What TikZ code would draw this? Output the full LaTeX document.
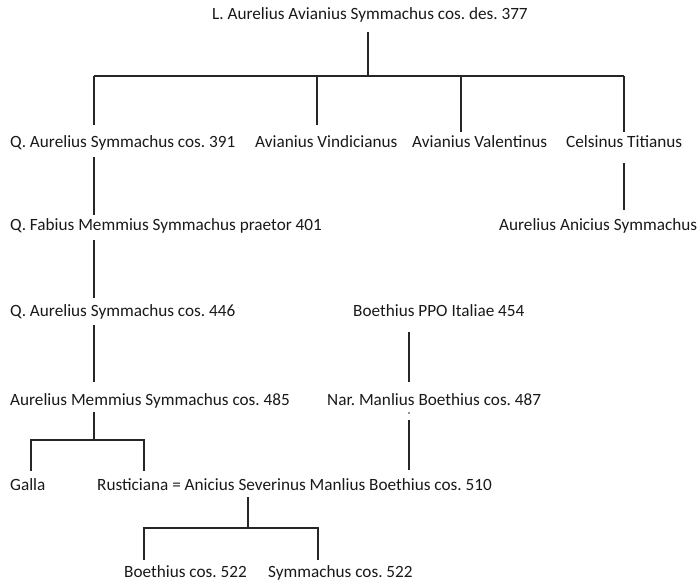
\documentclass[tikz,border=0pt]{standalone}
\usepackage{fontspec}
\setmainfont{Carlito}
\begin{document}
\frenchspacing
\begin{tikzpicture}[x=1bp,y=-1bp,
  person/.style={anchor=base west,inner sep=0pt,text=black!90,font=\fontsize{17.2bp}{20bp}\selectfont\frenchspacing},
  link/.style={draw=black!85,line width=1.3bp}]
\useasboundingbox (0,0) rectangle (697,582);
% people
\node[person] (n0) at (212,20) {L. Aurelius Avianius Symmachus cos. des. 377};
\node[person] (n1) at (10,148) {Q. Aurelius Symmachus cos. 391};
\node[person] (n2) at (255,148) {Avianius Vindicianus};
\node[person] (n3) at (412,148) {Avianius Valentinus};
\node[person] (n4) at (566,148) {Celsinus Titianus};
\node[person] (n5) at (10,230) {Q. Fabius Memmius Symmachus praetor 401};
\node[person] (n6) at (499,230) {Aurelius Anicius Symmachus};
\node[person] (n7) at (10,316) {Q. Aurelius Symmachus cos. 446};
\node[person] (n8) at (353,316) {Boethius PPO Italiae 454};
\node[person] (n9) at (10,405) {Aurelius Memmius Symmachus cos. 485};
\node[person] (n10) at (327,405) {Nar. Manlius Boethius cos. 487};
\node[person] (n11) at (10,490) {Galla};
\node[person] (n12) at (97,490) {Rusticiana = Anicius Severinus Manlius Boethius cos. 510};
\node[person] (n13) at (124,577) {Boethius cos. 522};
\node[person] (n14) at (268,577) {Symmachus cos. 522};
% connector points
\coordinate (a0) at (368,32);  \coordinate (a1) at (368,76);
\coordinate (b1) at (94,76);   \coordinate (b2) at (317,76);
\coordinate (b3) at (461,76);  \coordinate (b4) at (624,76);
\coordinate (c1) at (94,125);  \coordinate (c2) at (317,125);
\coordinate (c3) at (461,132); \coordinate (c4) at (624,132);
\coordinate (d1) at (94,157);  \coordinate (d2) at (94,215);
\coordinate (e1) at (624,163); \coordinate (e2) at (624,210);
\coordinate (f1) at (94,240);  \coordinate (f2) at (94,298);
\coordinate (g1) at (94,325);  \coordinate (g2) at (94,382);
\coordinate (h1) at (409,332); \coordinate (h2) at (409,382);
\coordinate (i1) at (94,412);  \coordinate (i2) at (94,440);
\coordinate (i3) at (31,440);  \coordinate (i4) at (144,440);
\coordinate (i5) at (31,471);  \coordinate (i6) at (144,471);
\coordinate (k0) at (409,413);
\coordinate (k1) at (409,420); \coordinate (k2) at (409,470);
\coordinate (m1) at (248,497); \coordinate (m2) at (248,528);
\coordinate (m3) at (144,528); \coordinate (m4) at (318,528);
\coordinate (m5) at (144,560); \coordinate (m6) at (318,560);
% connectors
\draw[link] (a0) -- (a1);
\draw[link] (b1) -- (b4);
\draw[link] (b1) -- (c1);
\draw[link] (b2) -- (c2);
\draw[link] (b3) -- (c3);
\draw[link] (b4) -- (c4);
\draw[link] (d1) -- (d2);
\draw[link] (e1) -- (e2);
\draw[link] (f1) -- (f2);
\draw[link] (g1) -- (g2);
\draw[link] (h1) -- (h2);
\draw[link] (i1) -- (i2);
\draw[link] (i5) -- (i3) -- (i4) -- (i6);
\fill[black!85] (k0) circle (0.8);
\draw[link] (k1) -- (k2);
\draw[link] (m1) -- (m2);
\draw[link] (m5) -- (m3) -- (m4) -- (m6);
\end{tikzpicture}
\end{document}
